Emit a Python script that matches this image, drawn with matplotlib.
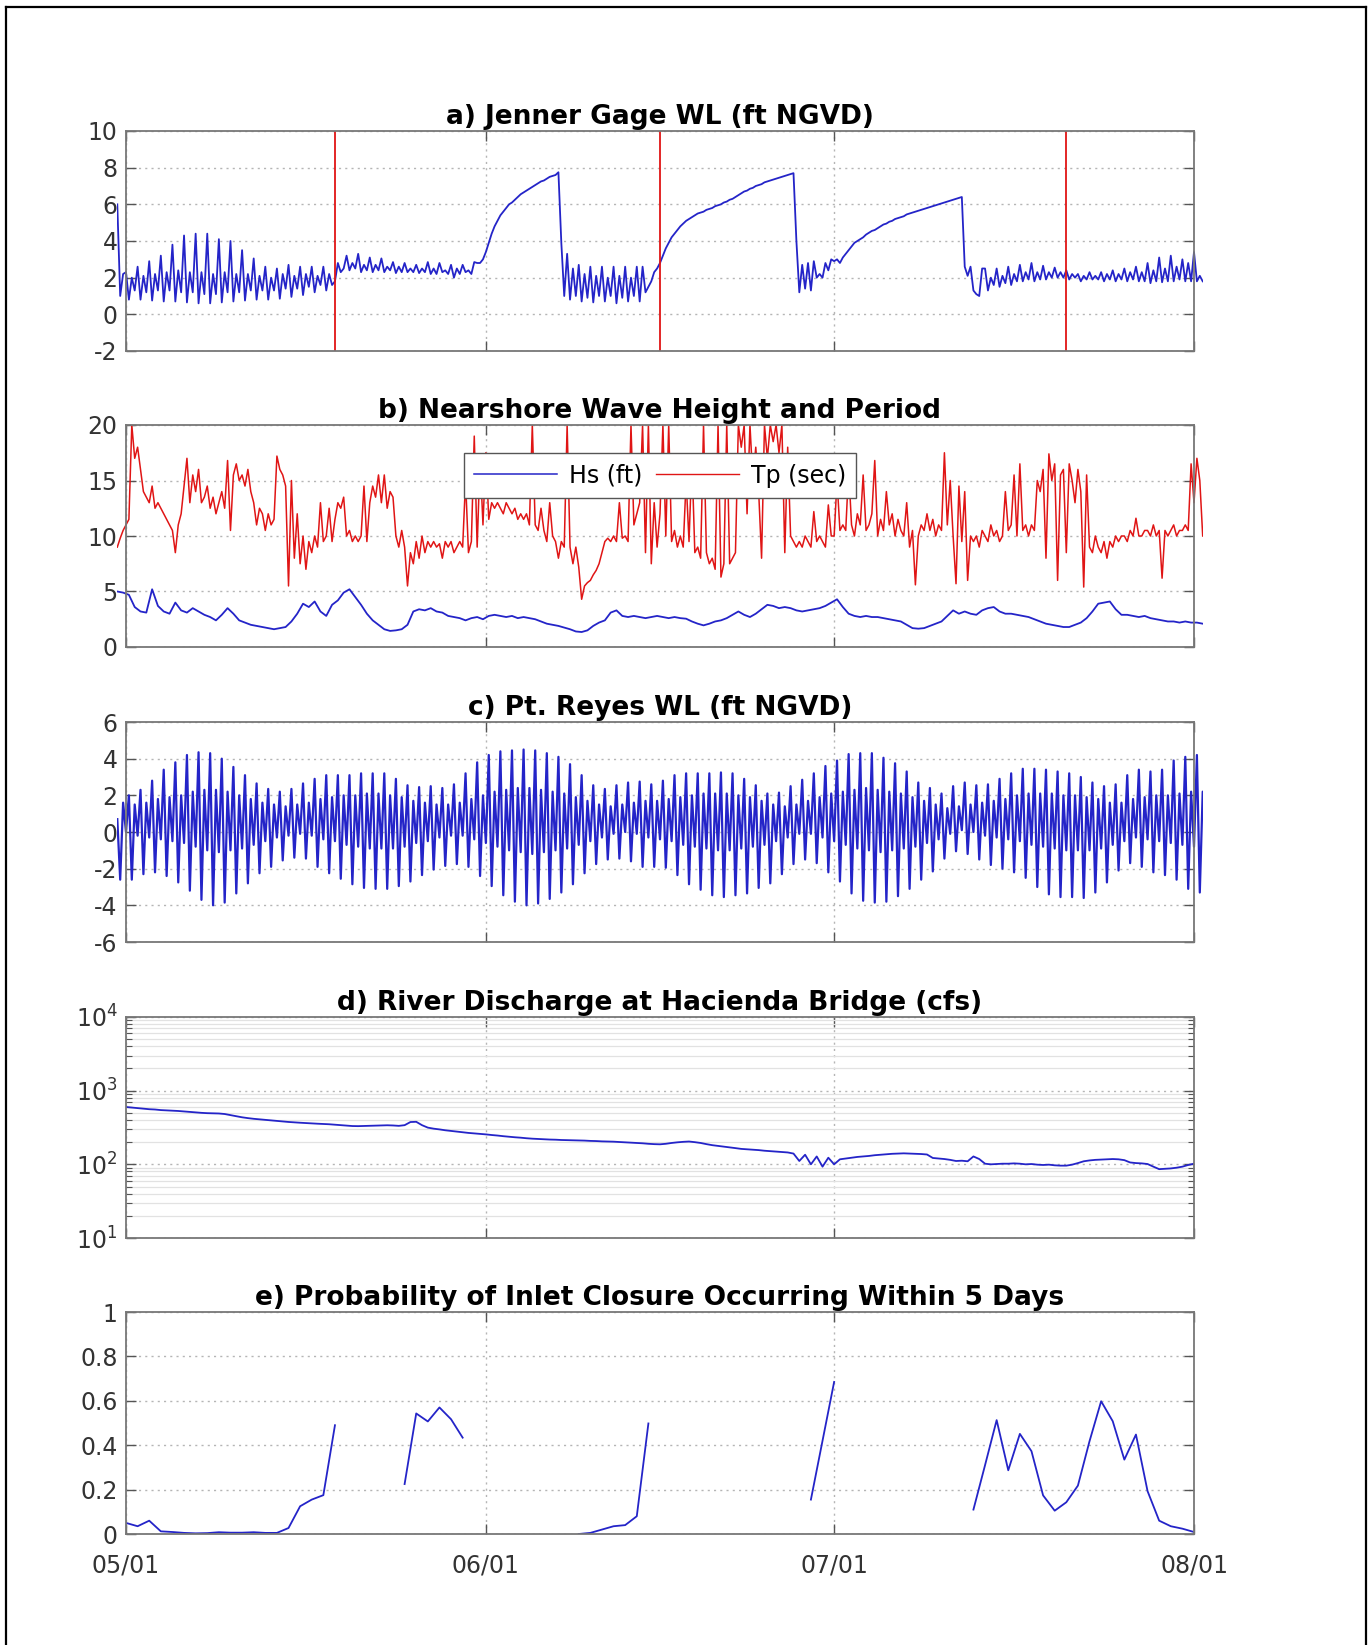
import numpy as np
import matplotlib
matplotlib.use('Agg')
import matplotlib.pyplot as plt
from matplotlib.lines import Line2D
from matplotlib.patches import Rectangle
from matplotlib.ticker import FuncFormatter, LogLocator, NullFormatter

plt.rcParams['font.family'] = ['DejaVu Sans']
plt.rcParams['axes.unicode_minus'] = False

# ---------------- x axis (days after 05/01) ----------------
tick_days = [0, 31, 61, 92]
tick_labels = ['05/01', '06/01', '07/01', '08/01']

# ---------------- a) Jenner gage water level (ft NGVD), every 6 h from day -0.75 ----------------
jenner_start = -0.75
jenner_step = 0.25
jenner_wl = [6.0, 1.0, 2.2,
    2.3, 0.8, 2.0, 1.3,   2.6, 0.8, 2.1, 1.2,   2.9, 0.75, 2.2, 1.3,  3.2, 0.7, 2.3, 1.3,
    3.8, 0.7, 2.4, 1.2,   4.3, 0.65, 2.3, 1.2,  4.4, 0.6, 2.3, 1.1,   4.4, 0.6, 2.2, 1.1,
    4.1, 0.65, 2.3, 1.2,  4.0, 0.7, 2.2, 1.2,   3.5, 0.75, 2.2, 1.3,  3.05, 0.8, 2.1, 1.3,
    2.6, 0.8, 2.0, 1.3,   2.5, 0.85, 2.2, 1.4,  2.7, 0.95, 2.1, 1.4,  2.6, 1.05, 2.2, 1.5,
    2.6, 1.2, 2.1, 1.6,   2.6, 1.3, 2.2, 1.6,                                   # days 0-17
    1.8, 2.8, 2.3, 2.5,   3.2, 2.4, 2.8, 2.5,   3.3, 2.3, 2.7, 2.4,   3.1, 2.3, 2.7, 2.4,
    3.05, 2.3, 2.6, 2.4,  2.85, 2.25, 2.6, 2.3, 2.8, 2.3, 2.5, 2.3,   2.7, 2.25, 2.5, 2.3,
    2.85, 2.2, 2.5, 2.2,  2.8, 2.3, 2.4, 2.2,   2.7, 2.0, 2.5, 2.2,   2.7, 2.3, 2.4, 2.2,
    2.85, 2.8, 2.8, 3.0,                                                         # days 18-30
    3.4, 3.9, 4.4, 4.8,   5.1, 5.4, 5.6, 5.8,   6.0, 6.1, 6.25, 6.4,  6.55, 6.65, 6.75, 6.85,
    6.95, 7.05, 7.15, 7.25, 7.3, 7.4, 7.5, 7.55, 7.6, 7.75, 3.9, 1.0,                  # days 31-37
    3.3, 0.8, 2.5, 1.0,   2.7, 0.7, 2.2, 0.9,   2.6, 0.65, 2.1, 1.0,  2.6, 0.7, 2.0, 1.0,
    2.6, 0.6, 2.1, 0.9,   2.6, 0.7, 2.0, 1.0,   2.6, 0.7, 2.6, 1.2,   1.5, 1.8, 2.3, 2.5,  # days 38-45
    2.8, 3.2, 3.6, 3.9,   4.2, 4.4, 4.6, 4.8,   4.95, 5.1, 5.2, 5.3,  5.4, 5.5, 5.55, 5.6,
    5.7, 5.75, 5.8, 5.9,  5.95, 6.0, 6.1, 6.15, 6.25, 6.3, 6.4, 6.5,  6.6, 6.7, 6.75, 6.85,
    6.9, 7.0, 7.05, 7.1,  7.2, 7.25, 7.3, 7.35, 7.4, 7.45, 7.5, 7.55, 7.6, 7.65, 7.7, 4.0,  # days 46-57
    1.2, 2.7, 1.4, 2.8,   1.3, 2.9, 2.0, 2.2,   2.0, 2.8, 2.4, 3.0,                   # days 58-60
    2.9, 3.0, 2.8, 3.1,   3.3, 3.5, 3.7, 3.9,   4.0, 4.1, 4.2, 4.35,  4.45, 4.55, 4.6, 4.7,
    4.8, 4.9, 4.95, 5.05, 5.1, 5.2, 5.25, 5.3,  5.35, 5.45, 5.5, 5.55, 5.6, 5.65, 5.7, 5.75,
    5.8, 5.85, 5.9, 5.95, 6.0, 6.05, 6.1, 6.15, 6.2, 6.25, 6.3, 6.35,                  # days 61-71
    6.4, 2.6, 2.1, 2.6,   1.3, 1.1, 1.0, 2.5,                                          # days 72-73
    2.5, 1.3, 2.0, 1.6,   2.5, 1.5, 2.1, 1.7,   2.6, 1.6, 2.2, 1.8,   2.7, 1.8, 2.3, 1.9,
    2.8, 1.8, 2.3, 1.9,   2.65, 1.9, 2.3, 2.0,  2.55, 2.0, 2.3, 2.0,  2.4, 1.9, 2.2, 2.0,
    2.2, 1.8, 2.1, 1.9,   2.3, 1.9, 2.1, 1.9,   2.3, 1.8, 2.2, 1.9,   2.4, 1.8, 2.2, 1.9,
    2.5, 1.8, 2.3, 1.9,   2.6, 1.8, 2.3, 1.8,   2.8, 1.7, 2.4, 1.8,   3.1, 1.75, 2.5, 1.8,
    3.2, 1.8, 2.6, 1.9,   3.0, 1.8, 2.8, 1.8,   3.4, 1.8, 2.1, 1.8]                   # days 74-92
event_days = [18, 46, 81]

# ---------------- b) nearshore wave height (ft) and peak period (s) ----------------
wave_start = -0.75
hs_step = 0.5
hs_ft = [5.0, 4.9, 4.7, 3.6, 3.2, 3.1, 5.2, 3.7, 3.2, 3.0,
         4.0, 3.3, 3.1, 3.5, 3.2, 2.9, 2.7, 2.4, 2.9, 3.5,
         3.0, 2.4, 2.2, 2.0, 1.9, 1.8, 1.7, 1.6, 1.7, 1.8,
         2.3, 3.0, 3.9, 3.6, 4.1, 3.2, 2.8, 3.8, 4.2, 4.9,
         5.2, 4.5, 3.8, 3.0, 2.4, 2.0, 1.6, 1.45, 1.5, 1.6,
         2.0, 3.2, 3.4, 3.3, 3.5, 3.2, 3.1, 2.8, 2.7, 2.6,
         2.4, 2.6, 2.7, 2.5, 2.8, 2.9, 2.8, 2.7, 2.8, 2.6,
         2.7, 2.6, 2.5, 2.3, 2.1, 2.0, 1.9, 1.75, 1.6, 1.4,
         1.35, 1.5, 1.9, 2.2, 2.4, 3.1, 3.3, 2.8, 2.7, 2.8,
         2.7, 2.6, 2.7, 2.8, 2.7, 2.6, 2.7, 2.6, 2.55, 2.3,
         2.1, 1.95, 2.1, 2.3, 2.4, 2.6, 2.9, 3.2, 2.9, 2.7,
         3.0, 3.4, 3.8, 3.7, 3.5, 3.6, 3.5, 3.3, 3.2, 3.3,
         3.4, 3.5, 3.7, 4.0, 4.3, 3.6, 3.0, 2.8, 2.7, 2.8,
         2.7, 2.7, 2.6, 2.5, 2.4, 2.3, 2.0, 1.7, 1.65, 1.7,
         1.9, 2.1, 2.3, 2.8, 3.3, 3.0, 3.2, 3.0, 2.9, 3.3,
         3.5, 3.6, 3.2, 3.0, 3.0, 2.9, 2.8, 2.7, 2.5, 2.3,
         2.1, 2.0, 1.9, 1.8, 1.8, 2.0, 2.2, 2.6, 3.2, 3.9,
         4.0, 4.1, 3.4, 2.9, 2.9, 2.8, 2.7, 2.8, 2.6, 2.5,
         2.4, 2.3, 2.3, 2.2, 2.3, 2.2, 2.2, 2.1]
tp_step = 0.25
tp_sec = [9.0, 9.8, 10.5,
    11.0, 11.5, 20.0, 17.0,  18.0, 16.0, 14.0, 13.5,  13.0, 14.5, 12.5, 13.0,  12.5, 12.0, 11.5, 11.0,
    10.5, 8.5, 11.0, 12.0,   14.5, 17.0, 13.0, 15.5,  14.0, 16.0, 13.0, 13.5,  14.5, 12.5, 13.5, 12.0,
    13.0, 14.0, 12.5, 16.8,  10.5, 15.5, 16.5, 15.0,  15.5, 14.5, 16.0, 14.0,  13.0, 11.0, 12.5, 12.0,
    10.5, 12.0, 11.0, 11.5,  17.2, 16.0, 15.5, 14.5,  5.5, 15.0, 8.0, 12.0,    7.5, 10.0, 7.0, 9.5,
    8.5, 10.0, 9.0, 13.0,    9.5, 10.0, 12.5, 9.5,    11.5, 13.0, 12.5, 13.5,  10.0, 10.5, 9.5, 10.0,
    9.5, 10.0, 14.5, 9.5,    13.0, 14.5, 13.5, 15.5,  13.0, 15.5, 12.5, 14.0,  13.5, 10.0, 9.0, 10.5,
    9.0, 5.5, 8.5, 7.5,      9.5, 8.0, 10.0, 8.5,     9.5, 9.0, 9.5, 9.0,      9.3, 8.0, 9.5, 9.0,
    9.5, 8.5, 9.0, 9.5,      9.0, 15.0, 8.5, 9.5,     19.0, 9.0, 17.0, 11.0,   17.5, 11.5, 13.0, 12.5,
    13.0, 12.5, 12.0, 13.0,  12.5, 12.0, 12.5, 11.5,  12.0, 11.5, 12.0, 11.0,  20.0, 11.0, 10.5, 12.5,
    10.5, 9.5, 13.0, 10.0,   9.5, 8.0, 9.5, 9.0,      20.0, 9.0, 7.5, 9.0,     7.2, 4.3, 5.5, 5.8,
    6.0, 6.5, 6.9, 7.5,      8.5, 9.5, 9.8, 9.5,      10.0, 9.5, 13.0, 9.8,    10.0, 9.5, 20.0, 11.0,
    12.0, 13.0, 20.0, 8.5,   20.0, 7.5, 13.0, 9.0,    12.0, 20.0, 10.0, 20.0,  9.5, 10.5, 9.0, 10.0,
    9.0, 15.0, 9.5, 17.0,    8.5, 9.0, 8.0, 20.0,     8.5, 7.5, 8.0, 7.0,      20.0, 6.3, 7.5, 20.0,
    7.5, 8.0, 8.5, 20.0,     18.0, 20.0, 12.0, 20.0,  15.0, 18.0, 14.0, 8.0,   20.0, 17.0, 20.0, 18.5,
    20.0, 17.5, 20.0, 8.5,   18.0, 10.0, 9.5, 9.0,    9.5, 9.0, 10.0, 9.5,     9.0, 12.2, 9.5, 10.0,
    9.5, 9.0, 12.8, 10.0,    10.0, 15.0, 10.5, 11.0,  10.5, 16.0, 11.0, 10.0,  12.0, 11.0, 15.5, 10.5,
    11.0, 12.0, 16.8, 10.0,  11.5, 10.5, 14.0, 11.0,  12.0, 10.0, 11.5, 10.5,  10.0, 13.0, 9.0, 10.5,
    5.6, 10.0, 11.0, 10.5,   12.0, 10.5, 11.5, 10.0,  11.0, 10.5, 17.5, 11.0,  15.0, 10.0, 5.7, 14.5,
    9.5, 14.0, 6.0, 10.0,    9.5, 10.0, 9.0, 10.5,    10.0, 9.5, 11.0, 10.0,   10.5, 9.5, 10.0, 14.0,
    10.5, 11.0, 15.5, 10.0,  16.5, 10.5, 11.0, 10.0,  11.0, 10.5, 15.0, 14.0,  16.0, 8.0, 17.4, 15.0,
    16.5, 6.0, 15.5, 16.0,   8.5, 16.5, 15.0, 13.0,   16.0, 14.0, 5.4, 15.5,   9.0, 8.5, 10.0, 9.0,
    8.5, 9.5, 8.0, 9.5,      9.0, 10.0, 9.5, 10.0,    10.0, 9.5, 10.5, 10.0,   11.6, 10.0, 10.0, 10.5,
    10.5, 10.0, 11.0, 10.0,  10.5, 6.2, 10.5, 10.0,   10.5, 11.0, 10.0, 10.5,  10.5, 11.0, 10.5, 16.5,
    13.0, 17.0, 15.0, 10.0]

# ---------------- c) Pt. Reyes water level (ft NGVD): daily tide extremes ----------------
reyes_start = -0.75
reyes_higher_high = [0.7,
    2.0, 2.3, 2.8, 3.4, 3.8, 4.2, 4.35, 4.3, 4.0, 3.55,
    3.1, 2.65, 2.35, 2.2, 2.35, 2.65, 2.9, 3.1, 3.1, 3.1,
    3.2, 3.2, 3.2, 2.9, 2.55, 2.45, 2.5, 2.4, 2.6, 3.2,
    3.8, 4.2, 4.4, 4.45, 4.5, 4.45, 4.3, 4.1, 3.7, 3.1,
    2.55, 2.35, 2.55, 2.7, 2.75, 2.6, 2.8, 3.1, 3.2, 3.2,
    3.2, 3.25, 3.2, 2.9, 2.55, 2.1, 2.15, 2.5, 2.85, 3.2,
    3.6, 3.9, 4.25, 4.3, 4.3, 4.05, 3.75, 3.3, 2.7, 2.4,
    2.1, 2.5, 2.7, 2.55, 2.6, 2.9, 3.2, 3.45, 3.45, 3.4,
    3.3, 3.2, 3.0, 2.7, 2.5, 2.6, 3.1, 3.4, 3.3, 3.4,
    3.9, 4.1, 4.2]
reyes_lower_low = [-2.6,
    -2.6, -2.3, -2.2, -2.4, -2.75, -3.2, -3.7, -4.0, -3.85, -3.35,
    -2.8, -2.25, -1.9, -1.55, -1.4, -1.45, -1.9, -2.25, -2.55, -2.85,
    -3.05, -3.1, -3.1, -2.95, -2.7, -2.35, -2.05, -1.85, -1.75, -1.9,
    -2.4, -2.95, -3.45, -3.8, -4.0, -3.9, -3.65, -3.3, -2.85, -2.25,
    -1.75, -1.5, -1.45, -1.6, -1.9, -1.9, -1.95, -2.35, -2.85, -3.15,
    -3.45, -3.55, -3.45, -3.35, -3.05, -2.8, -2.3, -1.75, -1.5, -1.7,
    -2.2, -2.7, -3.35, -3.75, -3.85, -3.8, -3.5, -3.1, -2.6, -2.15,
    -1.45, -1.05, -1.2, -1.5, -1.8, -2.0, -2.2, -2.5, -3.0, -3.4,
    -3.55, -3.55, -3.6, -3.3, -2.75, -2.1, -1.7, -1.9, -2.2, -2.35,
    -2.6, -3.1, -3.3]
reyes_lower_high = [1.6,
    1.5, 1.6, 1.8, 1.9, 2.0, 2.2, 2.3, 2.3, 2.2, 2.0,
    1.8, 1.6, 1.5, 1.4, 1.5, 1.6, 1.8, 1.9, 2.0, 2.0,
    2.1, 2.1, 2.0, 1.9, 1.7, 1.6, 1.5, 1.5, 1.6, 1.8,
    2.0, 2.2, 2.3, 2.4, 2.4, 2.3, 2.2, 2.1, 1.9, 1.7,
    1.5, 1.4, 1.5, 1.6, 1.7, 1.7, 1.8, 1.9, 2.0, 2.1,
    2.1, 2.1, 2.0, 1.9, 1.7, 1.5, 1.4, 1.5, 1.7, 1.9,
    2.1, 2.2, 2.3, 2.4, 2.3, 2.2, 2.1, 1.9, 1.7, 1.5,
    1.3, 1.4, 1.5, 1.6, 1.7, 1.8, 2.0, 2.1, 2.1, 2.1,
    2.0, 2.0, 1.9, 1.8, 1.6, 1.6, 1.8, 1.9, 2.0, 2.0,
    2.1, 2.2, 2.2]
reyes_higher_low = [0.0,
    -0.2, -0.3, -0.4, -0.5, -0.6, -0.8, -1.0, -1.1, -1.0, -0.9,
    -0.7, -0.5, -0.3, -0.2, -0.1, -0.2, -0.4, -0.5, -0.7, -0.8,
    -0.9, -0.9, -0.9, -0.8, -0.6, -0.5, -0.3, -0.2, -0.2, -0.4,
    -0.6, -0.8, -1.0, -1.1, -1.2, -1.1, -1.0, -0.9, -0.7, -0.5,
    -0.3, -0.1, 0.0, -0.1, -0.3, -0.4, -0.5, -0.7, -0.8, -0.9,
    -1.0, -1.0, -0.9, -0.8, -0.7, -0.5, -0.3, -0.1, -0.1, -0.3,
    -0.5, -0.7, -0.9, -1.0, -1.1, -1.0, -0.9, -0.8, -0.6, -0.4,
    -0.1, 0.1, 0.0, -0.2, -0.3, -0.4, -0.5, -0.7, -0.8, -0.9,
    -1.0, -1.0, -1.0, -0.9, -0.7, -0.5, -0.3, -0.4, -0.5, -0.6,
    -0.7, -0.8, -0.9]

# ---------------- d) river discharge at Hacienda Bridge (cfs), every 12 h ----------------
discharge_start = 0.0
discharge_step = 0.5
discharge_cfs = [600, 590, 580, 570, 560, 555, 545, 540, 535, 530,
                 522, 515, 508, 500, 495, 492, 490, 482, 465, 450,
                 435, 424, 415, 408, 400, 394, 387, 381, 376, 371,
                 367, 363, 359, 356, 353, 350, 345, 340, 335, 331,
                 330, 332, 333, 335, 338, 339, 337, 333, 340, 375,
                 378, 340, 315, 305, 298, 290, 284, 278, 272, 267,
                 263, 259, 255, 250, 246, 241, 237, 233, 230, 226,
                 223, 221, 219, 217, 216, 214, 213, 212, 211, 210,
                 208, 207, 205, 204, 203, 201, 199, 197, 195, 193,
                 190, 188, 187, 190, 195, 199, 202, 204, 200, 195,
                 188, 182, 178, 174, 170, 166, 162, 160, 158, 156,
                 153, 151, 149, 147, 145, 140, 111, 135, 100, 128,
                 93, 123, 100, 117, 120, 123, 126, 128, 130, 133,
                 135, 137, 139, 140, 141, 140, 139, 138, 136, 122,
                 120, 118, 115, 111, 112, 110, 128, 118, 102, 100,
                 101, 102, 102, 103, 102, 100, 101, 99, 98, 99,
                 97, 96, 96, 99, 104, 110, 113, 115, 116, 117,
                 118, 117, 114, 106, 104, 103, 101, 93, 86, 87,
                 88, 90, 93, 98, 102]

# ---------------- e) probability of inlet closure within 5 days (daily) ----------------
nan = float('nan')
closure_prob = [0.05, 0.035, 0.06, 0.012, 0.009, 0.005, 0.003, 0.004, 0.008, 0.006,
                0.006, 0.008, 0.005, 0.005, 0.027, 0.125, 0.155, 0.175, 0.49, nan,
                nan, nan, nan, nan, 0.225, 0.543, 0.507, 0.57, 0.517, 0.434,
                nan, nan, nan, nan, nan, nan, nan, nan, nan, 0.0,
                0.005, 0.02, 0.035, 0.04, 0.08, 0.498, nan, nan, nan, nan,
                nan, nan, nan, nan, nan, nan, nan, nan, nan, 0.155,
                0.42, 0.685, nan, nan, nan, nan, nan, nan, nan, nan,
                nan, nan, nan, 0.11, 0.31, 0.513, 0.287, 0.451, 0.373, 0.174,
                0.105, 0.143, 0.218, 0.418, 0.598, 0.508, 0.335, 0.448, 0.193, 0.06,
                0.035, 0.024, 0.009]

titles = ['a) Jenner Gage WL (ft NGVD)',
          'b) Nearshore Wave Height and Period',
          'c) Pt. Reyes WL (ft NGVD)',
          'd) River Discharge at Hacienda Bridge (cfs)',
          'e) Probability of Inlet Closure Occurring Within 5 Days']

# ---------------- drawing ----------------
BLUE = '#2424c8'
RED = '#e01515'
W, H = 1369, 1645
fig = plt.figure(figsize=(W / 100, H / 100), dpi=100)

boxes = [(131, 351), (425, 647), (722, 942), (1017, 1238), (1312, 1534)]
axes = [fig.add_axes([126 / W, 1 - b / H, 1068 / W, (b - t) / H]) for t, b in boxes]


def style(ax, title, show_xlabels=False):
    ax.set_xlim(tick_days[0], tick_days[-1])
    ax.set_xticks(tick_days)
    ax.set_xticklabels(tick_labels if show_xlabels else [])
    ax.tick_params(which='major', direction='in', top=True, right=True, length=7,
                   width=1, color='#555555', labelsize=17, labelcolor='#333333', pad=6)
    ax.tick_params(axis='x', pad=14)
    for s in ax.spines.values():
        s.set_color('#777777')
        s.set_linewidth(1.3)
    ax.set_axisbelow(True)
    ax.grid(True, which='major', linestyle=(0, (1.5, 3)), color='#b5b5b5', linewidth=1.0)
    ax.set_title(title, fontsize=19, fontweight='bold', pad=5)


def clip_wide(ax, artist, y0, y1):
    r = Rectangle((-0.75, y0), 93.5, y1 - y0, transform=ax.transData)
    artist.set_clip_path(r)


# a)
ax = axes[0]
t = jenner_start + jenner_step * np.arange(len(jenner_wl))
ln, = ax.plot(t, jenner_wl, color=BLUE, lw=1.3)
for d in event_days:
    ax.axvline(d, color=RED, lw=1.3)
ax.set_ylim(-2, 10)
ax.set_yticks(np.arange(-2, 11, 2))
style(ax, titles[0])
clip_wide(ax, ln, -2, 10)

# b)
ax = axes[1]
t_tp = wave_start + tp_step * np.arange(len(tp_sec))
t_hs = wave_start + hs_step * np.arange(len(hs_ft))
l_tp, = ax.plot(t_tp, tp_sec, color=RED, lw=1.1)
l_hs, = ax.plot(t_hs, hs_ft, color=BLUE, lw=1.3)
ax.set_ylim(0, 20)
ax.set_yticks([0, 5, 10, 15, 20])
style(ax, titles[1])
clip_wide(ax, l_tp, 0, 20)
clip_wide(ax, l_hs, 0, 20)
leg = ax.legend([Line2D([], [], color=BLUE, lw=1.1), Line2D([], [], color=RED, lw=1.0)],
                ['Hs (ft)', 'Tp (sec)'], loc='upper center', bbox_to_anchor=(0.5, 0.874),
                ncol=2, fontsize=17, handlelength=3.5, handletextpad=0.5, columnspacing=0.6,
                borderpad=0.45, borderaxespad=0, fancybox=False, framealpha=1,
                edgecolor='#555555')
leg.get_frame().set_linewidth(1.0)
leg.set_zorder(5)

# c)
ax = axes[2]
reyes = np.column_stack([reyes_higher_high, reyes_lower_low,
                         reyes_lower_high, reyes_higher_low]).ravel()
t = reyes_start + 0.25 * np.arange(len(reyes))
ln, = ax.plot(t, reyes, color=BLUE, lw=1.6)
ax.set_ylim(-6, 6)
ax.set_yticks(np.arange(-6, 7, 2))
style(ax, titles[2])
clip_wide(ax, ln, -6, 6)

# d)
ax = axes[3]
t = discharge_start + discharge_step * np.arange(len(discharge_cfs))
ax.plot(t, discharge_cfs, color=BLUE, lw=1.3)
ax.set_yscale('log')
ax.set_ylim(10, 1e4)
ax.yaxis.set_major_locator(LogLocator(base=10, numticks=10))
ax.yaxis.set_minor_locator(LogLocator(base=10, subs=np.arange(2, 10), numticks=20))
ax.yaxis.set_minor_formatter(NullFormatter())
style(ax, titles[3])
ax.tick_params(which='minor', direction='in', left=True, right=True, length=4,
               width=0.8, color='#555555')
ax.grid(True, which='minor', axis='y', linestyle='-', color='#e2e2e2', linewidth=0.9)

# e)
ax = axes[4]
t = np.arange(len(closure_prob))
ax.plot(t, closure_prob, color=BLUE, lw=1.3)
ax.set_ylim(0, 1)
ax.set_yticks(np.arange(0, 1.01, 0.2))
ax.yaxis.set_major_formatter(FuncFormatter(lambda v, p: '%g' % round(v, 2)))
style(ax, titles[4], show_xlabels=True)

# figure frame (left, top, right edges)
x0, x1, yt = 6 / W, 1366 / W, 1 - 7 / H
fig.add_artist(Line2D([x0, x0], [0, yt], transform=fig.transFigure, color='k', lw=1.6))
fig.add_artist(Line2D([x0, x1], [yt, yt], transform=fig.transFigure, color='k', lw=1.6))
fig.add_artist(Line2D([x1, x1], [0, yt], transform=fig.transFigure, color='k', lw=1.6))

fig.savefig('out.png', dpi=100)
